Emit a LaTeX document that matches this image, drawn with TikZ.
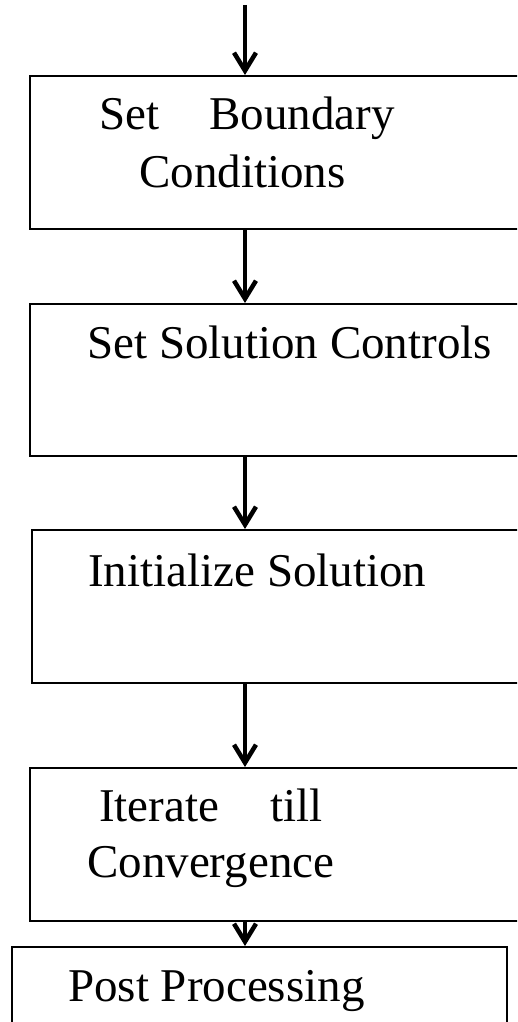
\documentclass[tikz,border=0pt]{standalone}
\usepackage{fontspec}
\setmainfont{Liberation Serif}
\usetikzlibrary{arrows.meta}
\begin{document}
\begin{tikzpicture}[x=1pt,y=-1pt,
  box/.style={draw=black, line width=1.6pt, rectangle, inner sep=0pt, anchor=north west},
  lbl/.style={anchor=base west, inner sep=0pt, font=\fontsize{47}{57}\selectfont},
  flow/.style={line width=4.5pt, -{Straight Barb[length=18pt,width=22pt,line width=4.5pt]}}]
\useasboundingbox (0,0) rectangle (517,1022);
\clip (0,0) rectangle (517,1022);
% boxes
\node[box, minimum width=501pt, minimum height=153pt] (b1) at (29,75) {};
\node[box, minimum width=501pt, minimum height=152pt] (b2) at (29,303) {};
\node[box, minimum width=499pt, minimum height=153pt] (b3) at (31,529) {};
\node[box, minimum width=501pt, minimum height=153pt] (b4) at (29,767) {};
\node[box, minimum width=495pt, minimum height=100pt] (b5) at (11,946) {};
% labels
\node[lbl] (t1a) at (99,130) {Set\hspace{50pt}Boundary};
\node[lbl] (t1b) at (139,187) {Conditions};
\node[lbl] (t2) at (87,358) {Set Solution Controls};
\node[lbl] (t3) at (88,586) {Initialize Solution};
\node[lbl] (t4a) at (99,821) {Iterate\hspace{51pt}till};
\node[lbl] (t4b) at (87,877) {Convergence};
\node[lbl] (t5) at (68,1001) {Post Processing};
% connectors
\coordinate (start) at (245,5);
\draw[flow] (start) -- (start |- b1.north);
\draw[flow] (start |- b1.south) -- (start |- b2.north);
\draw[flow] (start |- b2.south) -- (start |- b3.north);
\draw[flow] (start |- b3.south) -- (start |- b4.north);
\draw[flow] (start |- b4.south) -- (start |- b5.north);
\end{tikzpicture}
\end{document}
